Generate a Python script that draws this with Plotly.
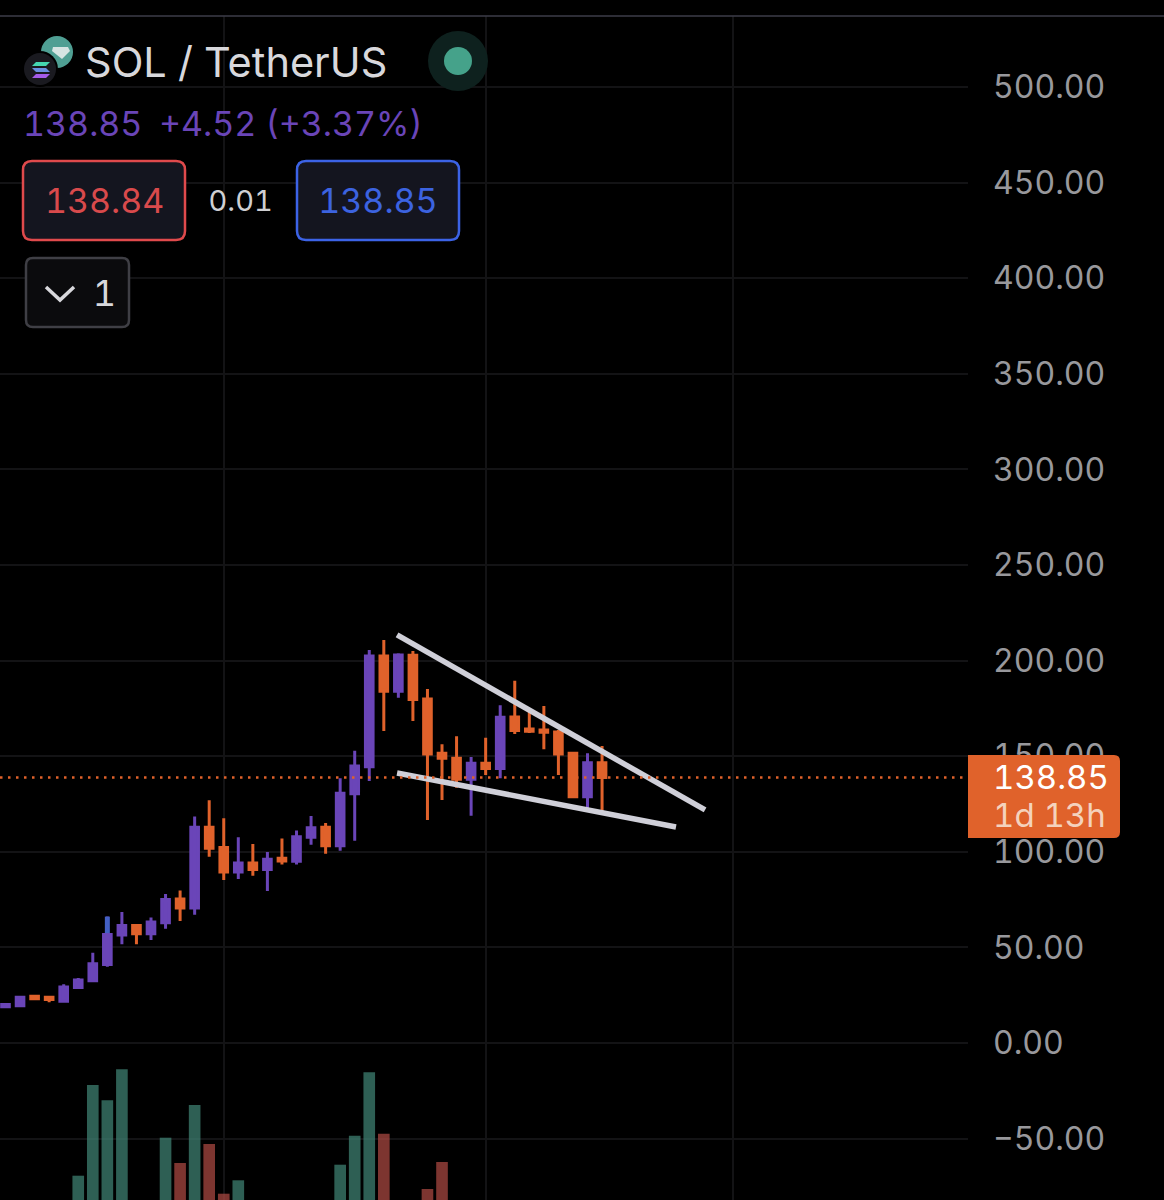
# -*- coding: utf-8 -*-
"""SOL / TetherUS weekly candles with a falling wedge, phone screenshot look."""

import plotly.graph_objects as go

WIDTH = 1164
HEIGHT = 1200

# Candle data (index = candle number from the left edge)
candle_index = list(range(42))
opens = [19.0, 19.5, 24.4, 23.9, 21.8, 29.0, 32.6, 41.1, 56.5, 61.5, 57.2, 62.9, 75.3, 70.6,
         112.8, 102.3, 89.4, 94.1, 90.8, 96.6, 95.0, 107.6, 112.8, 103.2, 130.4, 144.5, 202.4,
         183.9, 202.8, 179.9, 151.5, 148.9, 137.9, 146.3, 143.6, 170.5, 164.2, 163.7, 162.7,
         151.5, 128.8, 146.6]
highs = [20.6, 24.4, 25.1, 24.1, 30.7, 34.0, 47.2, 66.1, 68.5, 61.5, 65.7, 77.9, 79.8, 118.4,
         126.9, 117.5, 107.6, 104.1, 99.9, 107.0, 111.2, 118.7, 115.1, 138.4, 152.9, 205.5, 210.8,
         203.8, 205.0, 185.1, 156.2, 160.4, 149.6, 159.7, 176.6, 189.5, 174.2, 176.3, 163.7,
         151.8, 151.5, 155.3]
lows = [19.0, 19.0, 22.7, 21.3, 21.8, 29.0, 32.6, 39.9, 51.6, 51.6, 53.9, 59.8, 63.8, 67.1,
        97.4, 85.3, 85.8, 87.5, 79.5, 93.3, 93.3, 103.7, 99.0, 100.6, 105.8, 137.0, 163.2,
        180.6, 168.4, 116.6, 127.1, 133.5, 118.9, 140.2, 138.4, 161.6, 162.1, 153.6, 140.2,
        128.8, 122.4, 121.3]
closes = [20.2, 23.9, 23.2, 22.7, 29.3, 33.0, 41.5, 56.7, 61.5, 57.2, 63.3, 75.1, 70.6, 112.8,
          101.8, 89.4, 94.1, 90.8, 96.1, 95.2, 107.9, 112.6, 103.2, 130.6, 144.9, 202.4, 183.9,
          202.9, 179.6, 151.1, 148.9, 137.9, 146.3, 143.6, 170.3, 163.5, 163.0, 162.5, 151.1,
          128.8, 146.6, 138.85]

# Blue smudge on the upper wick of candle 7
smudge_x = [7, 7]
smudge_y = [57.5, 66.1]

# Volume pane (only the visible part of each bar, arbitrary units)
volume_index = [5, 6, 7, 8, 11, 12, 13, 14, 15, 16, 23, 24, 25, 26, 29, 30]
volumes = [24.3, 115, 99.7, 130.7, 62.3, 37, 95, 56, 6.3, 19.7, 35.3, 64.3, 127.7, 66.3, 11, 38]
volume_up = [True, True, True, True, True, False, True, False, False, True, True, True, True,
             False, False, False]

# Hand drawn wedge lines
upper_x = [26.91, 48.08]
upper_y = [213.4, 121.9]
lower_x = [26.91, 46.08]
lower_y = [141.2, 113.0]

last_price = 138.85
price_ticks = [500, 450, 400, 350, 300, 250, 200, 150, 100, 50, 0, -50]
price_labels = ["500.00", "450.00", "400.00", "350.00", "300.00", "250.00", "200.00",
                "150.00", "100.00", "50.00", "0.00", "\u221250.00"]
time_grid = [15, 33, 50]

PURPLE = "#6a45b8"
ORANGE = "#e0622b"
FONT = "Inter"


def px(x):
    return x / WIDTH


def py(y):
    return 1 - y / HEIGHT


def rounded_box(x0, y0, x1, y1, r, fill, line_color=None, line_width=2.5, left_round=True):
    """Rounded rectangle as a paper-anchored path, given in screen pixels."""
    lr = r if left_round else 0
    path = (f"M {px(x0 + lr)} {py(y0)} L {px(x1 - r)} {py(y0)} "
            f"Q {px(x1)} {py(y0)} {px(x1)} {py(y0 + r)} L {px(x1)} {py(y1 - r)} "
            f"Q {px(x1)} {py(y1)} {px(x1 - r)} {py(y1)} L {px(x0 + lr)} {py(y1)} "
            f"Q {px(x0)} {py(y1)} {px(x0)} {py(y1 - lr)} L {px(x0)} {py(y0 + lr)} "
            f"Q {px(x0)} {py(y0)} {px(x0 + lr)} {py(y0)} Z")
    return dict(type="path", xref="paper", yref="paper", path=path, fillcolor=fill,
                line=dict(color=line_color or fill, width=line_width if line_color else 0),
                layer="above")


def circle(cx, cy, r, fill):
    return dict(type="circle", xref="paper", yref="paper", x0=px(cx - r), x1=px(cx + r),
                y0=py(cy + r), y1=py(cy - r), fillcolor=fill, line=dict(width=0), layer="above")


def poly(points, fill=None, color=None, width=0):
    path = "M " + " L ".join(f"{px(x)} {py(y)}" for x, y in points)
    if fill:
        path += " Z"
    return dict(type="path", xref="paper", yref="paper", path=path,
                fillcolor=fill or "rgba(0,0,0,0)",
                line=dict(color=color or "rgba(0,0,0,0)", width=width), layer="above")


def label(text, x, y, size, color, anchor="left"):
    return dict(text=text, xref="paper", yref="paper", x=px(x), y=py(y), xanchor=anchor,
                yanchor="middle", align=anchor, showarrow=False,
                font=dict(family=FONT, size=size, color=color))


fig = go.Figure()

fig.add_trace(go.Bar(
    x=volume_index, y=volumes, yaxis="y2", width=0.8,
    marker=dict(color=["rgba(65,135,120,0.7)" if up else "rgba(178,76,68,0.7)" for up in volume_up],
                line=dict(width=0)),
))

fig.add_trace(go.Candlestick(
    x=candle_index, open=opens, high=highs, low=lows, close=closes,
    whiskerwidth=0,
    increasing=dict(line=dict(color=PURPLE, width=3), fillcolor=PURPLE),
    decreasing=dict(line=dict(color=ORANGE, width=3), fillcolor=ORANGE),
))

fig.add_trace(go.Scatter(x=smudge_x, y=smudge_y, mode="lines",
                         line=dict(color="#4360c4", width=5)))

# Wedge lines
for xs, ys in [(upper_x, upper_y), (lower_x, lower_y)]:
    fig.add_trace(go.Scatter(x=xs, y=ys, mode="lines",
                             line=dict(color="#cfcfd8", width=5.5)))

shapes = [
    # top edge of the chart panel
    dict(type="line", xref="paper", yref="paper", x0=0, x1=1, y0=py(16), y1=py(16),
         line=dict(color="#3c3c48", width=1.5)),
    # last price line
    dict(type="line", xref="paper", yref="y", x0=0, x1=px(968), y0=last_price, y1=last_price,
         line=dict(color=ORANGE, width=2.5, dash="2.5px,5.5px"), layer="above"),
    # price tag
    rounded_box(968, 755, 1120, 838, 6, ORANGE, left_round=False),
    # bid / ask / order boxes
    rounded_box(23, 161, 185, 240, 9, "#14151f", "#e04a4c"),
    rounded_box(297, 161, 459, 240, 9, "#14151f", "#3c63e6"),
    rounded_box(26, 258, 129, 327, 7, "#0b0b0d", "#3f3f45"),
    poly([(46, 287), (60, 300), (74, 287)], color="#d8d8dc", width=3.5),
    # market status dot
    circle(458, 61, 30, "#0e211e"),
    circle(458, 61, 14, "#45a28a"),
    # coin icons
    circle(57, 52, 16, "#4f9f93"),
    poly([(53, 47), (68, 47), (70, 51), (62, 59), (52, 51)], fill="#d5e4e2"),
    circle(40, 69, 18, "#000000"),
    circle(40, 69, 16, "#1a1a20"),
    poly([(36, 62), (50, 62), (46, 66), (32, 66)], fill="#45d6b0"),
    poly([(32, 68), (46, 68), (50, 72), (36, 72)], fill="#6a8fe0"),
    poly([(36, 74), (50, 74), (46, 78), (32, 78)], fill="#a45be8"),
]

annotations = [
    label("SOL / TetherUS", 83, 62, 41.5, "#d8d8dc"),
    label("138.85", 21, 123, 34, PURPLE),
    label("+4.52 (+3.37%)", 157, 123, 34, PURPLE),
    label("138.84", 104, 201, 34, "#d94a4c", "center"),
    label("0.01", 240, 201, 29, "#cfcfd2", "center"),
    label("138.85", 378, 201, 34, "#3c63e0", "center"),
    label("1", 104, 293, 36, "#d8d8dc", "center"),
    label("138.85", 991, 777, 33, "#ffffff"),
    label("1d 13h", 991, 815, 33, "#f4d2bd"),
]

fig.update_layout(
    width=WIDTH, height=HEIGHT,
    margin=dict(l=0, r=0, t=0, b=0),
    paper_bgcolor="#000000", plot_bgcolor="#000000",
    showlegend=False,
    boxgap=0.25,
    shapes=shapes,
    annotations=annotations,
    xaxis=dict(
        domain=[0, 968 / WIDTH], range=[-0.378, 66.15],
        tickvals=time_grid, showticklabels=False, ticks="",
        showgrid=True, gridcolor="#131315", gridwidth=1.5,
        zeroline=False, showline=False, rangeslider=dict(visible=False),
    ),
    yaxis=dict(
        domain=[0, 1 - 16 / HEIGHT], range=[-82.1, 537.1], side="right",
        tickvals=price_ticks, ticktext=price_labels,
        ticks="", ticklabelstandoff=24,
        tickfont=dict(family=FONT, size=32, color="#98989c"),
        showgrid=True, gridcolor="#131315", gridwidth=1.5,
        zeroline=False, showline=False,
    ),
    # overlay axis shares the price axis height, so one unit is one pixel here
    yaxis2=dict(
        range=[0, 1184], overlaying="y", anchor="x",
        visible=False, showgrid=False,
    ),
)

# Screenshot font has same-width digits
post_js = """
document.body.style.margin = '0';
document.body.style.background = '#000';
var st = document.createElement('style');
st.textContent = 'svg text {font-variant-numeric: tabular-nums; font-feature-settings: "tnum" 1;}';
document.head.appendChild(st);
"""

fig.write_html("out.html", config=dict(displayModeBar=False), post_script=post_js)
